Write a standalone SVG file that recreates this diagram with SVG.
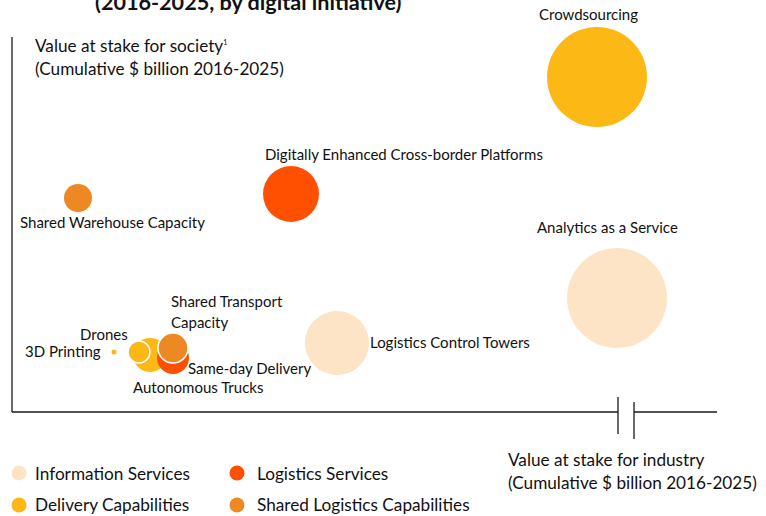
<svg xmlns="http://www.w3.org/2000/svg" width="766" height="516" viewBox="0 0 766 516">
<style>
text{font-family:Lato,"Open Sans","DejaVu Sans",sans-serif;font-size:15px;fill:#111}
.big{font-size:17.2px}
.title{font-weight:bold;font-size:21.6px}
.axis{stroke:#1a1a1a;stroke-width:1.3;fill:none}
.info{fill:#FDE4C6}
.deliv{fill:#FCB815}
.logi{fill:#FE5000}
.shared{fill:#EE8823}
.ws{stroke:#fff;stroke-width:1.5}
</style>
<rect width="766" height="516" fill="#fff"/>
<text class="title" x="95" y="10">(2016-2025, by digital initiative)</text>
<g id="axes">
<path class="axis" d="M12 37V412M12 412H618M634 412H717M618 397V434M634 402V439"/>
<text class="big" x="35" y="52">Value at stake for society<tspan font-size="7" dy="-7">1</tspan></text>
<text class="big" x="35" y="75">(Cumulative $ billion 2016-2025)</text>
<text class="big" x="508" y="466">Value at stake for industry</text>
<text class="big" x="508" y="489">(Cumulative $ billion 2016-2025)</text>
</g>
<g id="crowdsourcing"><circle class="deliv" cx="597" cy="77" r="50"/><text x="539" y="20">Crowdsourcing</text></g>
<g id="cross-border"><circle class="logi" cx="291" cy="194" r="28"/><text x="265" y="160">Digitally Enhanced Cross-border Platforms</text></g>
<g id="warehouse"><circle class="shared" cx="78" cy="198" r="14"/><text x="20" y="228">Shared Warehouse Capacity</text></g>
<g id="analytics"><circle class="info" cx="617" cy="298" r="50"/><text x="537" y="233">Analytics as a Service</text></g>
<g id="control-towers"><circle class="info" cx="337" cy="343" r="32"/><text x="370" y="348">Logistics Control Towers</text></g>
<g id="autonomous-trucks"><circle class="deliv" cx="150" cy="355" r="17"/><text x="133" y="393">Autonomous Trucks</text></g>
<g id="same-day"><circle class="logi" cx="173" cy="358" r="16"/><text x="188" y="374">Same-day Delivery</text></g>
<g id="drones"><circle class="deliv ws" cx="139" cy="352" r="11"/><text x="80" y="340">Drones</text></g>
<g id="printing"><circle class="deliv" cx="114" cy="352" r="2.5"/><text x="25" y="357">3D Printing</text></g>
<g id="transport"><circle class="shared ws" cx="173" cy="348" r="15"/><text x="171" y="307">Shared Transport</text><text x="171" y="328">Capacity</text></g>
<g id="legend">
<circle class="info" cx="19" cy="473" r="7.5"/><text class="big" x="35" y="480">Information Services</text>
<circle class="deliv" cx="19" cy="505" r="7.5"/><text class="big" x="35" y="511">Delivery Capabilities</text>
<circle class="logi" cx="237" cy="473" r="7.5"/><text class="big" x="257" y="480">Logistics Services</text>
<circle class="shared" cx="237" cy="505" r="7.5"/><text class="big" x="257" y="511">Shared Logistics Capabilities</text>
</g>
</svg>
